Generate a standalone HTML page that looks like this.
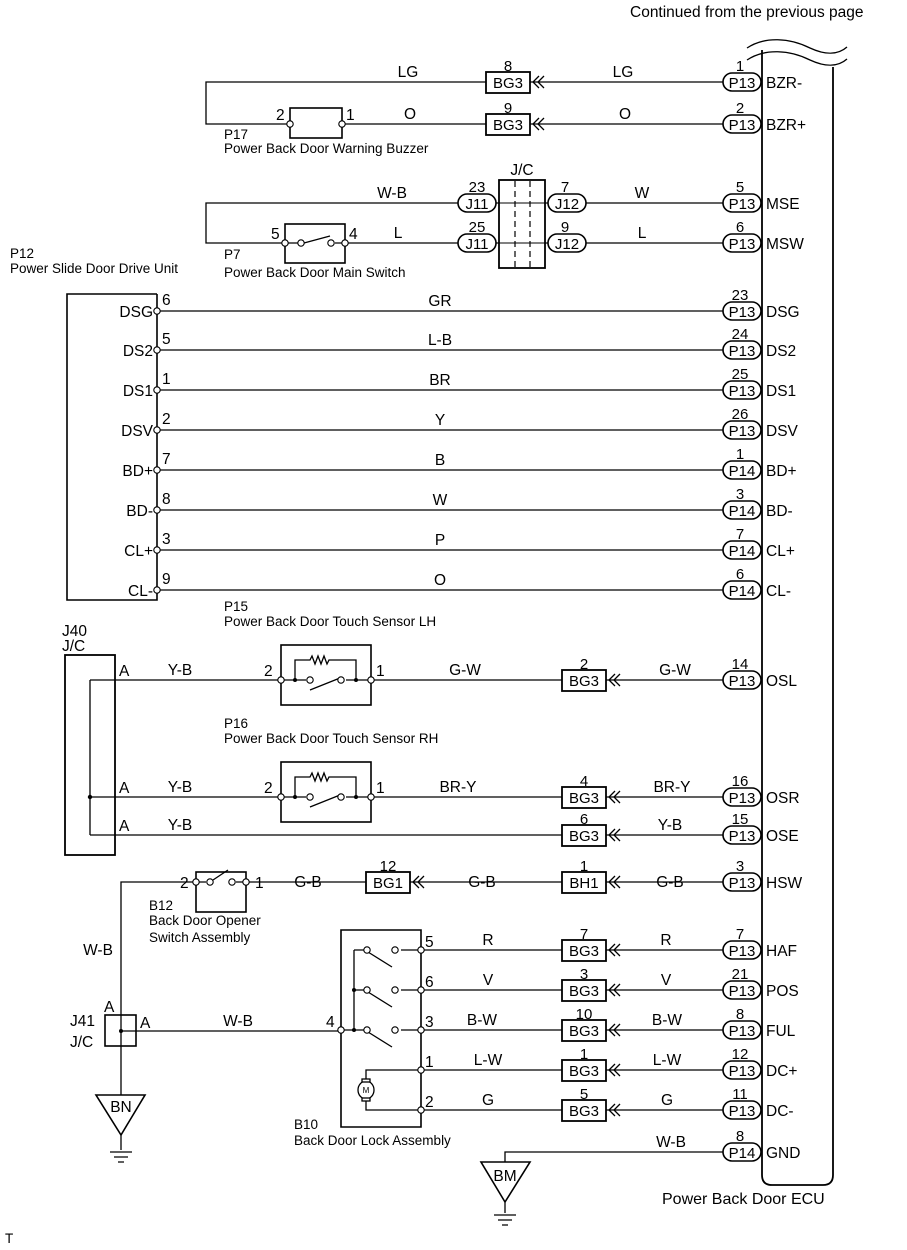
<!DOCTYPE html>
<html><head><meta charset="utf-8"><style>
html,body{margin:0;padding:0;background:#fff}
svg{display:block}
text{font-family:"Liberation Sans",Arial,sans-serif;fill:#000}
.l{font-size:15.5px}
.b{font-size:15px}
.s{font-size:13.5px}
</style></head><body>
<svg width="907" height="1250" viewBox="0 0 907 1250" xmlns="http://www.w3.org/2000/svg" stroke="#000" fill="none" stroke-width="1.3">
<defs>
<g id="pill"><rect x="0" y="-9" width="38" height="18" rx="9" fill="#fff" stroke-width="1.6"/></g>
<g id="arr"><path d="M9,-6 L3,0 L9,6 M14,-6 L8,0 L14,6" stroke-width="1.3"/></g>
<g id="box"><rect x="0" y="-10" width="44" height="21" fill="#fff" stroke-width="1.8"/></g>
<circle id="pin" r="3.2" fill="#fff" stroke-width="1.1"/>
</defs>

<text x="630" y="17" stroke="none" style="font-size:15.5px">Continued from the previous page</text>

<!-- ECU -->
<path d="M762,50 L762,1175 Q762,1185 772,1185 L823,1185 Q833,1185 833,1175 L833,67" stroke-width="1.8"/>
<path d="M747,48 C765,36 790,38 810,48 C825,55 838,55 847,47" stroke-width="1.3"/>
<path d="M747,60 C765,48 790,50 810,60 C825,67 838,67 847,59" stroke-width="1.3"/>
<text class="l" x="662" y="1204" stroke="none" style="font-size:16px">Power Back Door ECU</text>

<g stroke="none" class="l">
<text x="766" y="88">BZR-</text><text x="766" y="130">BZR+</text>
<text x="766" y="209">MSE</text><text x="766" y="249">MSW</text>
<text x="766" y="317">DSG</text><text x="766" y="356">DS2</text>
<text x="766" y="396">DS1</text><text x="766" y="436">DSV</text>
<text x="766" y="476">BD+</text><text x="766" y="516">BD-</text>
<text x="766" y="556">CL+</text><text x="766" y="596">CL-</text>
<text x="766" y="686">OSL</text><text x="766" y="803">OSR</text>
<text x="766" y="841">OSE</text><text x="766" y="888">HSW</text>
<text x="766" y="956">HAF</text><text x="766" y="996">POS</text>
<text x="766" y="1036">FUL</text><text x="766" y="1076">DC+</text>
<text x="766" y="1116">DC-</text><text x="766" y="1158">GND</text>
</g>

<g>
<path d="M723,82 H206 V124 H723"/>
<path d="M723,203 H206 V243 H723"/>
<path d="M157,311 H723 M157,350 H723 M157,390 H723 M157,430 H723 M157,470 H723 M157,510 H723 M157,550 H723 M157,590 H723"/>
<path d="M90,680 H723 M90,797 H723 M90,835 H723 M90,680 V835"/>
<path d="M723,882 H121 V1095 M121,1031 H341"/>
<path d="M421,950 H723 M421,990 H723 M421,1030 H723 M421,1070 H723 M421,1110 H723"/>
<path d="M723,1152 H505 V1162"/>
</g>

<g>
<use href="#pill" x="723" y="82"/><use href="#pill" x="723" y="124"/>
<use href="#pill" x="723" y="203"/><use href="#pill" x="723" y="243"/>
<use href="#pill" x="723" y="311"/><use href="#pill" x="723" y="350"/>
<use href="#pill" x="723" y="390"/><use href="#pill" x="723" y="430"/>
<use href="#pill" x="723" y="470"/><use href="#pill" x="723" y="510"/>
<use href="#pill" x="723" y="550"/><use href="#pill" x="723" y="590"/>
<use href="#pill" x="723" y="680"/><use href="#pill" x="723" y="797"/>
<use href="#pill" x="723" y="835"/><use href="#pill" x="723" y="882"/>
<use href="#pill" x="723" y="950"/><use href="#pill" x="723" y="990"/>
<use href="#pill" x="723" y="1030"/><use href="#pill" x="723" y="1070"/>
<use href="#pill" x="723" y="1110"/><use href="#pill" x="723" y="1152"/>
<use href="#pill" x="458" y="203"/><use href="#pill" x="458" y="243"/>
<use href="#pill" x="548" y="203"/><use href="#pill" x="548" y="243"/>
</g>
<g stroke="none" class="b" text-anchor="middle">
<text x="742" y="88">P13</text><text x="742" y="130">P13</text>
<text x="742" y="209">P13</text><text x="742" y="249">P13</text>
<text x="742" y="317">P13</text><text x="742" y="356">P13</text>
<text x="742" y="396">P13</text><text x="742" y="436">P13</text>
<text x="742" y="476">P14</text><text x="742" y="516">P14</text>
<text x="742" y="556">P14</text><text x="742" y="596">P14</text>
<text x="742" y="686">P13</text><text x="742" y="803">P13</text>
<text x="742" y="841">P13</text><text x="742" y="888">P13</text>
<text x="742" y="956">P13</text><text x="742" y="996">P13</text>
<text x="742" y="1036">P13</text><text x="742" y="1076">P13</text>
<text x="742" y="1116">P13</text><text x="742" y="1158">P14</text>
<text x="477" y="209">J11</text><text x="477" y="249">J11</text>
<text x="567" y="209">J12</text><text x="567" y="249">J12</text>
<text x="740" y="71">1</text><text x="740" y="113">2</text>
<text x="740" y="192">5</text><text x="740" y="232">6</text>
<text x="740" y="300">23</text><text x="740" y="339">24</text>
<text x="740" y="379">25</text><text x="740" y="419">26</text>
<text x="740" y="459">1</text><text x="740" y="499">3</text>
<text x="740" y="539">7</text><text x="740" y="579">6</text>
<text x="740" y="669">14</text><text x="740" y="786">16</text>
<text x="740" y="824">15</text><text x="740" y="871">3</text>
<text x="740" y="939">7</text><text x="740" y="979">21</text>
<text x="740" y="1019">8</text><text x="740" y="1059">12</text>
<text x="740" y="1099">11</text><text x="740" y="1141">8</text>
<text x="477" y="192">23</text><text x="477" y="232">25</text>
<text x="565" y="192">7</text><text x="565" y="232">9</text>
</g>

<rect x="499" y="180" width="46" height="88" fill="#fff" stroke-width="1.8"/>
<path d="M499,203 H545 M499,243 H545" stroke-width="1"/>
<path d="M515,181 V267 M530,181 V267" stroke-dasharray="6,4" stroke-width="1.2"/>
<text class="l" x="522" y="175" text-anchor="middle" stroke="none">J/C</text>

<g>
<use href="#box" x="486" y="82"/><use href="#arr" x="530" y="82"/>
<use href="#box" x="486" y="124"/><use href="#arr" x="530" y="124"/>
<use href="#box" x="562" y="680"/><use href="#arr" x="606" y="680"/>
<use href="#box" x="562" y="797"/><use href="#arr" x="606" y="797"/>
<use href="#box" x="562" y="835"/><use href="#arr" x="606" y="835"/>
<use href="#box" x="366" y="882"/><use href="#arr" x="410" y="882"/>
<use href="#box" x="562" y="882"/><use href="#arr" x="606" y="882"/>
<use href="#box" x="562" y="950"/><use href="#arr" x="606" y="950"/>
<use href="#box" x="562" y="990"/><use href="#arr" x="606" y="990"/>
<use href="#box" x="562" y="1030"/><use href="#arr" x="606" y="1030"/>
<use href="#box" x="562" y="1070"/><use href="#arr" x="606" y="1070"/>
<use href="#box" x="562" y="1110"/><use href="#arr" x="606" y="1110"/>
</g>
<g stroke="none" class="b" text-anchor="middle">
<text x="508" y="88">BG3</text><text x="508" y="71">8</text>
<text x="508" y="130">BG3</text><text x="508" y="113">9</text>
<text x="584" y="686">BG3</text><text x="584" y="669">2</text>
<text x="584" y="803">BG3</text><text x="584" y="786">4</text>
<text x="584" y="841">BG3</text><text x="584" y="824">6</text>
<text x="388" y="888">BG1</text><text x="388" y="871">12</text>
<text x="584" y="888">BH1</text><text x="584" y="871">1</text>
<text x="584" y="956">BG3</text><text x="584" y="939">7</text>
<text x="584" y="996">BG3</text><text x="584" y="979">3</text>
<text x="584" y="1036">BG3</text><text x="584" y="1019">10</text>
<text x="584" y="1076">BG3</text><text x="584" y="1059">1</text>
<text x="584" y="1116">BG3</text><text x="584" y="1099">5</text>
</g>
<g stroke="none" class="l" text-anchor="middle">
<text x="408" y="77">LG</text><text x="623" y="77">LG</text>
<text x="410" y="119">O</text><text x="625" y="119">O</text>
<text x="392" y="198">W-B</text><text x="642" y="198">W</text>
<text x="398" y="238">L</text><text x="642" y="238">L</text>
<text x="440" y="306">GR</text><text x="440" y="345">L-B</text>
<text x="440" y="385">BR</text><text x="440" y="425">Y</text>
<text x="440" y="465">B</text><text x="440" y="505">W</text>
<text x="440" y="545">P</text><text x="440" y="585">O</text>
<text x="180" y="675">Y-B</text><text x="465" y="675">G-W</text><text x="675" y="675">G-W</text>
<text x="180" y="792">Y-B</text><text x="458" y="792">BR-Y</text><text x="672" y="792">BR-Y</text>
<text x="180" y="830">Y-B</text><text x="670" y="830">Y-B</text>
<text x="308" y="887">G-B</text><text x="482" y="887">G-B</text><text x="670" y="887">G-B</text>
<text x="488" y="945">R</text><text x="666" y="945">R</text>
<text x="488" y="985">V</text><text x="666" y="985">V</text>
<text x="482" y="1025">B-W</text><text x="667" y="1025">B-W</text>
<text x="488" y="1065">L-W</text><text x="667" y="1065">L-W</text>
<text x="488" y="1105">G</text><text x="667" y="1105">G</text>
<text x="671" y="1147">W-B</text>
<text x="238" y="1026">W-B</text>
<text x="98" y="955">W-B</text>
</g>

<rect x="290" y="108" width="52" height="30" fill="#fff" stroke-width="1.6"/>
<use href="#pin" x="290" y="124"/><use href="#pin" x="342" y="124"/>
<g stroke="none">
<text class="l" x="276" y="120">2</text><text class="l" x="346" y="120">1</text>
<text class="s" x="224" y="139">P17</text>
<text class="s" x="224" y="153">Power Back Door Warning Buzzer</text>
</g>

<rect x="285" y="224" width="60" height="39" fill="#fff" stroke-width="1.6"/>
<path d="M285,243 H300 M335,243 H345 M304,243 L330,236"/>
<use href="#pin" x="285" y="243"/><use href="#pin" x="345" y="243"/>
<use href="#pin" x="301" y="243"/><use href="#pin" x="331" y="243"/>
<g stroke="none">
<text class="l" x="271" y="239">5</text><text class="l" x="349" y="239">4</text>
<text class="s" x="224" y="259">P7</text>
<text class="s" x="224" y="277">Power Back Door Main Switch</text>
</g>

<path d="M157,294 H67 V600 H157 V294" stroke-width="1.6"/>
<g>
<use href="#pin" x="157" y="311"/><use href="#pin" x="157" y="350"/><use href="#pin" x="157" y="390"/><use href="#pin" x="157" y="430"/>
<use href="#pin" x="157" y="470"/><use href="#pin" x="157" y="510"/><use href="#pin" x="157" y="550"/><use href="#pin" x="157" y="590"/>
</g>
<g stroke="none" class="l">
<text x="10" y="258" class="s">P12</text>
<text x="10" y="273" class="s">Power Slide Door Drive Unit</text>
<g text-anchor="end">
<text x="153" y="317">DSG</text><text x="153" y="356">DS2</text><text x="153" y="396">DS1</text><text x="153" y="436">DSV</text>
<text x="153" y="476">BD+</text><text x="153" y="516">BD-</text><text x="153" y="556">CL+</text><text x="153" y="596">CL-</text>
</g>
<text x="162" y="305">6</text><text x="162" y="344">5</text><text x="162" y="384">1</text><text x="162" y="424">2</text>
<text x="162" y="464">7</text><text x="162" y="504">8</text><text x="162" y="544">3</text><text x="162" y="584">9</text>
<text class="s" x="224" y="611">P15</text>
<text class="s" x="224" y="626">Power Back Door Touch Sensor LH</text>
<text class="s" x="224" y="728">P16</text>
<text class="s" x="224" y="743">Power Back Door Touch Sensor RH</text>
</g>

<rect x="65" y="655" width="50" height="200" stroke-width="1.8"/>
<circle cx="90" cy="797" r="2.2" fill="#000" stroke="none"/>
<g stroke="none" class="l">
<text x="62" y="636">J40</text><text x="62" y="651">J/C</text>
<text x="119" y="676">A</text><text x="119" y="793">A</text><text x="119" y="831">A</text>
</g>

<g id="ts1">
<rect x="281" y="645" width="90" height="60" fill="#fff" stroke-width="1.6"/>
<path d="M295,680 V660 H310 l2,-4 l3,8 l3,-8 l3,8 l3,-8 l3,8 l2,-4 H356 V680 M281,680 H306 M346,680 H371 M310,690 L340,678"/>
<circle cx="295" cy="680" r="2" fill="#000" stroke="none"/><circle cx="356" cy="680" r="2" fill="#000" stroke="none"/>
<use href="#pin" x="310" y="680"/><use href="#pin" x="341" y="680"/>
<use href="#pin" x="281" y="680"/><use href="#pin" x="371" y="680"/>
</g>
<use href="#ts1" y="117"/>
<g stroke="none" class="l">
<text x="264" y="676">2</text><text x="376" y="676">1</text>
<text x="264" y="793">2</text><text x="376" y="793">1</text>
</g>

<rect x="196" y="872" width="50" height="40" fill="#fff" stroke-width="1.6"/>
<path d="M196,882 H206 M236,882 H246 M213,880 L228,870"/>
<use href="#pin" x="196" y="882"/><use href="#pin" x="246" y="882"/>
<use href="#pin" x="210" y="882"/><use href="#pin" x="232" y="882"/>
<g stroke="none">
<text class="l" x="180" y="888">2</text><text class="l" x="255" y="888">1</text>
<text class="s" x="149" y="910">B12</text>
<text class="s" x="149" y="925">Back Door Opener</text>
<text class="s" x="149" y="942">Switch Assembly</text>
</g>

<rect x="105" y="1015" width="31" height="31" fill="none" stroke-width="1.6"/>
<circle cx="121" cy="1031" r="2" fill="#000" stroke="none"/>
<g stroke="none" class="l">
<text x="104" y="1012">A</text><text x="140" y="1028">A</text>
<text x="70" y="1026">J41</text><text x="70" y="1047">J/C</text>
</g>
<path d="M96,1095 H145 L121,1135 Z" fill="#fff" stroke-width="1.6"/>
<path d="M121,1135 V1150 M110,1152 H132 M114,1157 H128 M118,1162 H124"/>
<text class="l" x="121" y="1112" text-anchor="middle" stroke="none">BN</text>
<path d="M481,1162 H530 L505,1202 Z" fill="#fff" stroke-width="1.6"/>
<path d="M505,1202 V1213 M494,1215 H516 M498,1220 H512 M502,1225 H508"/>
<text class="l" x="505" y="1181" text-anchor="middle" stroke="none">BM</text>

<path d="M341,930 H421 V1127 H341 Z" stroke-width="1.6"/>
<path d="M354,950 V1030 M341,1030 H364 M354,990 H364 M354,950 H364"/>
<g>
<path d="M368,952 L392,967 M368,992 L392,1007 M368,1032 L392,1047"/>
<path d="M401,950 H421 M401,990 H421 M401,1030 H421"/>
<use href="#pin" x="367" y="950"/><use href="#pin" x="395" y="950"/>
<use href="#pin" x="367" y="990"/><use href="#pin" x="395" y="990"/>
<use href="#pin" x="367" y="1030"/><use href="#pin" x="395" y="1030"/>
</g>
<circle cx="354" cy="990" r="2" fill="#000" stroke="none"/><circle cx="354" cy="1030" r="2" fill="#000" stroke="none"/>
<path d="M421,1070 H366 V1082 M421,1110 H366 V1098"/>
<ellipse cx="366" cy="1090" rx="8" ry="9" fill="#fff"/>
<rect x="362" y="1079" width="8" height="3" fill="#fff"/><rect x="362" y="1098" width="8" height="3" fill="#fff"/>
<text x="366" y="1093" text-anchor="middle" stroke="none" style="font-size:8px">M</text>
<use href="#pin" x="421" y="950"/><use href="#pin" x="421" y="990"/><use href="#pin" x="421" y="1030"/>
<use href="#pin" x="421" y="1070"/><use href="#pin" x="421" y="1110"/><use href="#pin" x="341" y="1030"/>
<g stroke="none" class="l">
<text x="425" y="947">5</text><text x="425" y="987">6</text><text x="425" y="1027">3</text>
<text x="425" y="1067">1</text><text x="425" y="1107">2</text><text x="326" y="1027">4</text>
<text class="s" x="294" y="1129">B10</text>
<text class="s" x="294" y="1145">Back Door Lock Assembly</text>
</g>

<text class="s" x="5" y="1243" stroke="none">T</text>
</svg>
</body></html>
